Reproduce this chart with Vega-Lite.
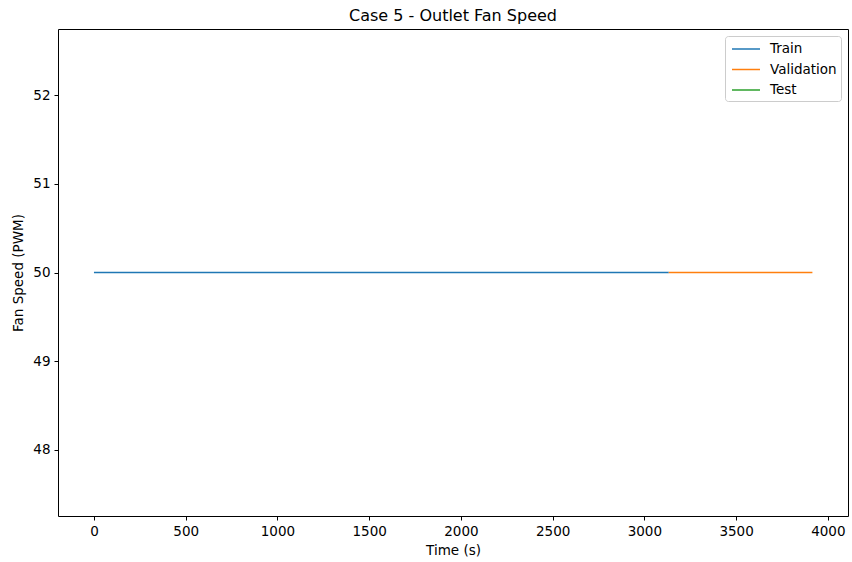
{
  "$schema": "https://vega.github.io/schema/vega-lite/v6.json",
  "width": 790,
  "height": 487,
  "autosize": {"type": "none"},
  "padding": {"left": 58, "top": 29, "right": 4, "bottom": 46},
  "background": "white",
  "config": {
    "font": "DejaVu Sans",
    "view": {"stroke": "black", "strokeWidth": 1},
    "axis": {"grid": false, "domain": false, "tickColor": "black", "tickSize": 4, "labelColor": "black", "labelFontSize": 13.5, "titleFontSize": 13.5, "titleFontWeight": "normal", "titleColor": "black", "labelFont": "DejaVu Sans", "titleFont": "DejaVu Sans"}
  },
  "title": {"text": "Case 5 - Outlet Fan Speed", "fontSize": 16, "fontWeight": "normal", "font": "DejaVu Sans", "color": "black", "offset": 5},
  "data": {"values": [
    {"time": 0, "speed": 50, "set": "Train"},
    {"time": 1000, "speed": 50, "set": "Train"},
    {"time": 2000, "speed": 50, "set": "Train"},
    {"time": 3133, "speed": 50, "set": "Train"},
    {"time": 3133, "speed": 50, "set": "Validation"},
    {"time": 3916, "speed": 50, "set": "Validation"}
  ]},
  "mark": {"type": "line", "strokeWidth": 1.5, "clip": true},
  "encoding": {
    "x": {"field": "time", "type": "quantitative", "scale": {"domain": [-196, 4110], "nice": false, "zero": false},
      "axis": {"values": [0, 500, 1000, 1500, 2000, 2500, 3000, 3500, 4000], "format": "d", "title": "Time (s)", "titlePadding": 6, "labelPadding": 4}},
    "y": {"field": "speed", "type": "quantitative", "scale": {"domain": [47.25, 52.75], "nice": false, "zero": false},
      "axis": {"values": [48, 49, 50, 51, 52], "title": "Fan Speed (PWM)", "titlePadding": 7, "labelPadding": 4}},
    "color": {"field": "set", "type": "nominal",
      "scale": {"domain": ["Train", "Validation", "Test"], "range": ["#1f77b4", "#ff7f0e", "#2ca02c"]},
      "legend": {"title": null, "orient": "top-right", "offset": 7, "fillColor": "white", "strokeColor": "#cccccc", "padding": 4, "cornerRadius": 3, "symbolType": "M-0.75,0H2.75", "symbolStrokeWidth": 1.5, "symbolSize": 256, "labelFontSize": 13.5, "labelFont": "DejaVu Sans", "labelColor": "black", "rowPadding": 4.5, "labelOffset": 23}}
  }
}
